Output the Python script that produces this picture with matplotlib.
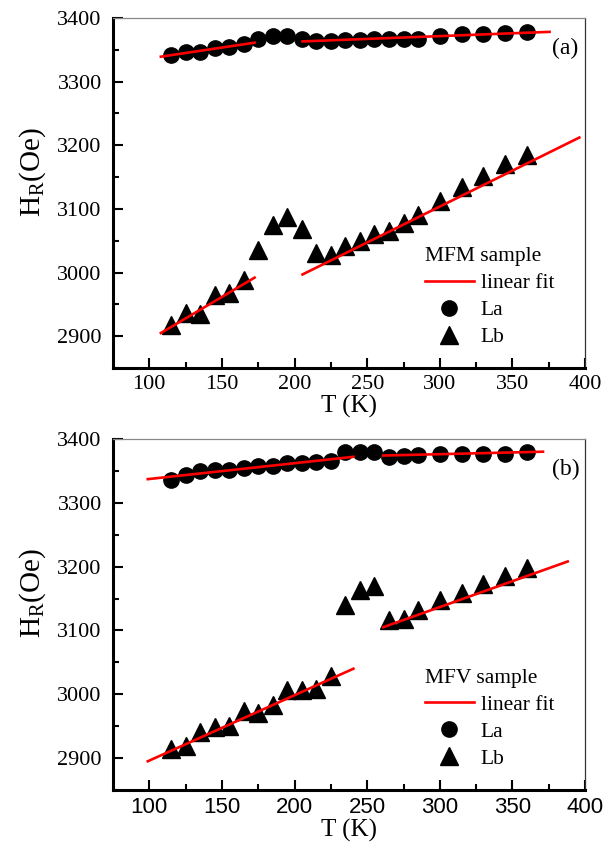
import matplotlib
matplotlib.use('Agg')
import matplotlib.pyplot as plt
from matplotlib.lines import Line2D

plt.rcParams['font.family'] = 'Liberation Serif'
plt.rcParams['mathtext.fontset'] = 'stix'

# ---- data ----
T_la = [115, 125, 135, 145, 155, 165, 175, 185, 195, 205, 215, 225,
        235, 245, 255, 265, 275, 285, 300, 315, 330, 345, 360]
T_lb = T_la
xticks = [100, 150, 200, 250, 300, 350, 400]
yticks = [2900, 3000, 3100, 3200, 3300, 3400]

# panel (a) MFM sample
mfm_la = [3342, 3346, 3347, 3352, 3355, 3359, 3366, 3371, 3372, 3367, 3364, 3364,
          3365, 3365, 3366, 3367, 3367, 3367, 3372, 3374, 3374, 3376, 3377]
mfm_lb = [2917, 2936, 2935, 2964, 2968, 2988, 3036, 3074, 3088, 3069, 3031, 3028,
          3041, 3050, 3061, 3066, 3078, 3090, 3112, 3135, 3152, 3170, 3185]
mfm_fit_la = [([108, 172.5], [3339, 3361]), ([205.5, 375.5], [3363, 3378])]
mfm_fit_lb = [([108, 172.5], [2905, 2992]), ([205.5, 396], [2997, 3212])]

# panel (b) MFV sample
mfv_la = [3335, 3344, 3349, 3351, 3352, 3355, 3357, 3358, 3362, 3362, 3364, 3366,
          3379, 3380, 3379, 3372, 3374, 3375, 3376, 3377, 3377, 3377, 3379]
mfv_lb = [2915, 2919, 2941, 2949, 2951, 2973, 2970, 2983, 3007, 3007, 3009, 3029,
          3140, 3163, 3170, 3116, 3118, 3132, 3148, 3158, 3172, 3186, 3198]
mfv_fit_la = [([99, 240.5], [3337, 3372]), ([261, 371], [3374, 3380])]
mfv_fit_lb = [([99, 240.5], [2895, 3040]), ([261, 388], [3105, 3208])]

panels = [
    ('(a)', 'MFM sample', mfm_la, mfm_lb, mfm_fit_la, mfm_fit_lb, 'Liberation Serif'),
    ('(b)', 'MFV sample', mfv_la, mfv_lb, mfv_fit_la, mfv_fit_lb, 'Liberation Sans'),
]

fig = plt.figure(figsize=(6.07, 8.5), dpi=100)
rects = [[0.186, 0.567, 0.778, 0.412], [0.186, 0.0706, 0.778, 0.413]]

for rect, (tag, title, la, lb, fit_la, fit_lb, xfont) in zip(rects, panels):
    ax = fig.add_axes(rect)
    for xs, ys in fit_la + fit_lb:
        ax.plot(xs, ys, color='#ff0000', lw=1.9, zorder=3)
    ax.plot(T_la, la, 'o', color='black', ms=11, zorder=2)
    ax.plot(T_lb, lb, '^', color='black', ms=13.5, zorder=2)

    ax.set_xlim(75, 400)
    ax.set_ylim(2850, 3400)
    ax.set_xticks(xticks, labels=[str(t) for t in xticks],
                  fontfamily=xfont, fontsize=16)
    ax.set_xticks(range(125, 400, 50), minor=True)
    ax.set_yticks(yticks)
    ax.set_yticks(range(2850, 3400, 100), minor=True)

    ax.tick_params(which='both', direction='in', top=False, right=False,
                   width=1.5, color='black')
    ax.tick_params(axis='y', labelsize=16, pad=8)
    ax.tick_params(axis='x', pad=5)
    ax.tick_params(which='major', length=7)
    ax.tick_params(which='minor', length=4)

    for s in ['left', 'bottom']:
        ax.spines[s].set_linewidth(2.2)
    ax.spines['top'].set_linewidth(0.9)
    ax.spines['top'].set_color('#888888')
    ax.spines['right'].set_linewidth(0.9)
    ax.spines['right'].set_color('#333333')

    ax.set_xlabel('T (K)', fontsize=18, labelpad=1)
    ax.set_ylabel(r'$\mathregular{H_R}$(Oe)', fontsize=21)
    ax.yaxis.set_label_coords(-0.138, 0.56)

    ax.text(0.958, 0.914, tag, transform=ax.transAxes, fontsize=17,
            ha='center', va='center')

    handles = [Line2D([], [], color='#ff0000', lw=1.9),
               Line2D([], [], ls='none', marker='o', color='black', ms=11),
               Line2D([], [], ls='none', marker='^', color='black', ms=13.5)]
    ax.legend(handles, ['linear fit', 'La', 'Lb'], title=title,
              title_fontsize=15.5, fontsize=15.5, frameon=False,
              loc='upper left', bbox_to_anchor=(0.66, 0.345),
              borderpad=0, borderaxespad=0, handlelength=2.3,
              handletextpad=0.3, labelspacing=0.32, alignment='left')

fig.savefig('out.png', dpi=100)
